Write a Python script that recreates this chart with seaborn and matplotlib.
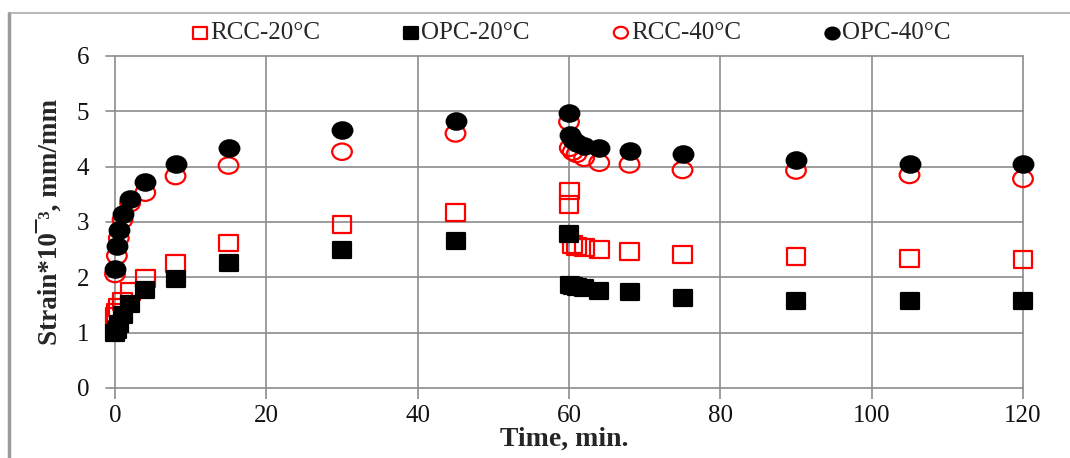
import numpy as np
import pandas as pd
import matplotlib
matplotlib.use("Agg")
import matplotlib.pyplot as plt
from matplotlib.path import Path
from matplotlib.transforms import Affine2D
import seaborn as sns

time_min = [0, 0.25, 0.5, 1, 2, 4, 8, 15, 30, 45, 60,
            60.1, 60.5, 61, 62, 64, 68, 75, 90, 105, 120]
rcc_20 = [1.30, 1.37, 1.45, 1.57, 1.74, 1.98, 2.25, 2.62, 2.96, 3.17, 3.32,
          3.56, 2.59, 2.56, 2.54, 2.51, 2.46, 2.42, 2.37, 2.34, 2.33]
opc_20 = [1.00, 1.05, 1.15, 1.32, 1.52, 1.78, 1.97, 2.26, 2.50, 2.66, 2.78,
          1.87, 1.85, 1.83, 1.80, 1.76, 1.73, 1.63, 1.58, 1.58, 1.57]
rcc_40 = [2.06, 2.39, 2.71, 3.04, 3.34, 3.53, 3.83, 4.02, 4.27, 4.60, 4.81,
          4.34, 4.27, 4.23, 4.16, 4.07, 4.04, 3.94, 3.93, 3.85, 3.78]
opc_40 = [2.15, 2.57, 2.86, 3.14, 3.42, 3.73, 4.04, 4.33, 4.66, 4.82, 4.97,
          4.57, 4.48, 4.42, 4.38, 4.33, 4.29, 4.22, 4.12, 4.05, 4.05]
series_names = ["RCC-20°C", "OPC-20°C", "RCC-40°C", "OPC-40°C"]
x_ticks = [0, 20, 40, 60, 80, 100, 120]
y_ticks = [0, 1, 2, 3, 4, 5, 6]

sns.set_theme(style="white")
plt.rcParams['font.family'] = ['Liberation Serif', 'DejaVu Serif']

W, H = 1070, 458
fig = plt.figure(figsize=(W / 100, H / 100), dpi=100)
ax = fig.add_axes([106 / W, 1 - 388 / H, (1023 - 106) / W, (388 - 56) / H])

# slightly wide markers (the reference is horizontally stretched)
circ = Path.unit_circle().transformed(Affine2D().scale(1.2, 1.0))
sq = Path([(-1.12, -1), (1.12, -1), (1.12, 1), (-1.12, 1), (-1.12, -1)],
          [Path.MOVETO, Path.LINETO, Path.LINETO, Path.LINETO, Path.CLOSEPOLY])

data = pd.DataFrame({"t": time_min, series_names[0]: rcc_20, series_names[1]: opc_20,
                     series_names[2]: rcc_40, series_names[3]: opc_40})
styles = [
    (series_names[0], sq, "none", "#ff0000", 185),
    (series_names[1], sq, "#000000", "#000000", 185),
    (series_names[2], circ, "none", "#ff0000", 200),
    (series_names[3], circ, "#000000", "#000000", 200),
]
for name, mk, fc, ec, sz in styles:
    sns.scatterplot(data=data, x="t", y=name, ax=ax, marker=mk, s=sz,
                    facecolor=fc, edgecolor=ec, linewidth=1.6, label=name,
                    zorder=3, clip_on=False)

ax.set_xlim(-1.19, 120)
ax.set_ylim(0, 6)
ax.set_xticks(x_ticks)
ax.set_yticks(y_ticks)
for s in ax.spines.values():
    s.set_visible(False)
gc = "#8c8c8c"
for yv in y_ticks:
    ax.axhline(yv, color=gc, lw=1.2, zorder=1, clip_on=False)
for xv in x_ticks:
    ax.axvline(xv, color=gc, lw=1.2, zorder=1, clip_on=False)
ax.tick_params(axis='x', length=8, width=1.2, color=gc, direction='out',
               pad=4, labelsize=18, bottom=True)
ax.tick_params(axis='y', length=0, pad=12, labelsize=18, left=False)
for lab in ax.get_xticklabels() + ax.get_yticklabels():
    lab.set_color("#111111")

ax.set_xlabel("Time, min.", fontsize=20, fontweight='bold', labelpad=0)
ax.set_ylabel("Strain*10¯³, mm/mm", fontsize=19.5, fontweight='bold', labelpad=10)

leg = ax.legend(loc='center', bbox_to_anchor=(569 / W, 1 - 33 / H),
                bbox_transform=fig.transFigure, ncol=4, frameon=False,
                fontsize=18, markerscale=0.72, handletextpad=-0.1,
                columnspacing=3.15, handlelength=1.0, borderaxespad=0)

# outer chart frame
fig.add_artist(plt.Line2D([9 / W, 9 / W], [0, 1 - 13 / H], transform=fig.transFigure,
                          color="#9a9a9a", lw=2.5))
fig.add_artist(plt.Line2D([9 / W, 1], [1 - 13 / H, 1 - 13 / H], transform=fig.transFigure,
                          color="#aaaaaa", lw=1.2))

fig.savefig("out.png", dpi=100)
